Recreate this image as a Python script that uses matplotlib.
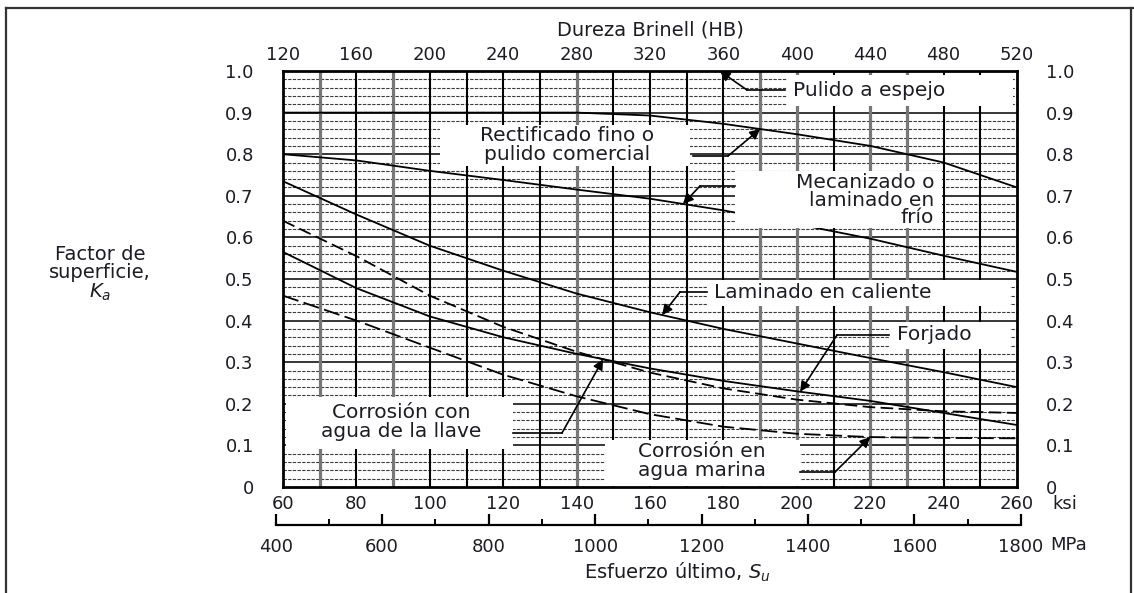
import numpy as np
import matplotlib
matplotlib.use("Agg")
import matplotlib.pyplot as plt
from matplotlib.patches import Rectangle
from matplotlib.lines import Line2D

plt.rcParams['font.family'] = ['DejaVu Sans']
TXT = '#1c1c24'

# ── Data (Ka vs ultimate strength in ksi) ───────────────────────────────────
ksi = [60, 80, 100, 120, 140, 160, 180, 200, 220, 240, 260]
espejo = [1.0, 1.0, 1.0, 1.0, 1.0, 1.0, 1.0, 1.0, 1.0, 1.0, 1.0]
rect_ksi = [60, 140, 160, 180, 200, 220, 240, 260]
rectificado = [0.90, 0.90, 0.893, 0.873, 0.848, 0.82, 0.78, 0.72]
mecanizado = [0.80, 0.785, 0.76, 0.738, 0.715, 0.693, 0.665, 0.632, 0.597, 0.556, 0.517]
caliente = [0.735, 0.655, 0.58, 0.52, 0.465, 0.42, 0.38, 0.345, 0.31, 0.276, 0.24]
forjado = [0.565, 0.478, 0.41, 0.36, 0.32, 0.285, 0.255, 0.23, 0.207, 0.178, 0.149]
agua_llave = [0.64, 0.555, 0.46, 0.385, 0.325, 0.275, 0.237, 0.21, 0.192, 0.182, 0.178]
agua_marina = [0.46, 0.40, 0.335, 0.27, 0.218, 0.175, 0.145, 0.128, 0.12, 0.118, 0.117]

hb_ticks = list(range(120, 521, 40))
ksi_ticks = list(range(60, 261, 20))
mpa_ticks = list(range(400, 1801, 200))
ka_ticks = [0, 0.1, 0.2, 0.3, 0.4, 0.5, 0.6, 0.7, 0.8, 0.9, 1.0]
ka_labels = ['0', '0.1', '0.2', '0.3', '0.4', '0.5', '0.6', '0.7', '0.8', '0.9', '1.0']

MPA_PER_KSI = 6.895

# ── Figure / axes geometry ──────────────────────────────────────────────────
W_PX, H_PX = 1134, 593
fig = plt.figure(figsize=(W_PX / 100, H_PX / 100), dpi=100)
L, R, T, B = 283 / W_PX, 1017 / W_PX, 1 - 71 / H_PX, 1 - 487 / H_PX
ax = fig.add_axes([L, B, R - L, T - B])
ax.set_xlim(60, 260)
ax.set_ylim(0, 1.0)

# grid: horizontal every 0.02, vertical every 10 ksi
for v in np.arange(0.02, 0.999, 0.02):
    if abs(v * 10 - round(v * 10)) < 1e-6:
        ax.axhline(v, color='black', lw=1.1, zorder=1)
    else:
        ax.axhline(v, color='#3a3a3a', lw=0.8, dashes=(3, 1.2), zorder=1)
gray_cols = [70, 90, 140, 190, 200, 220, 230]
for k in range(70, 260, 10):
    if k in gray_cols:
        ax.axvline(k, color='#777777', lw=2.3, zorder=1)
    else:
        ax.axvline(k, color='black', lw=1.5, zorder=1)

# curves
ax.plot(ksi, espejo, color='black', lw=1.4, zorder=3)
ax.plot(rect_ksi, rectificado, color='black', lw=1.3, zorder=3)
ax.plot(ksi, mecanizado, color='black', lw=1.3, zorder=3)
ax.plot(ksi, caliente, color='black', lw=1.3, zorder=3)
ax.plot(ksi, forjado, color='black', lw=1.3, zorder=3)
ax.plot(ksi, agua_llave, color='black', lw=1.3, dashes=(7, 3), zorder=3)
ax.plot(ksi, agua_marina, color='black', lw=1.3, dashes=(9, 3), zorder=3)

# ── label boxes with leader arrows ──────────────────────────────────────────
def px2d(x, y):
    return 60 + (x - 283) / 3.67, (487 - y) / 416


def label_box(x0, y0, x1, y1):
    (a, b), (c, d) = px2d(x0, y1), px2d(x1, y0)
    ax.add_patch(Rectangle((a, b), c - a, d - b, facecolor='white',
                           edgecolor='none', zorder=4))


def leader(start_px, elbow_px, tip_ksi, xs, ys):
    s = px2d(*start_px)
    e = px2d(*elbow_px)
    tip = (tip_ksi, float(np.interp(tip_ksi, xs, ys)))
    ax.plot([s[0], e[0]], [s[1], e[1]], color='black', lw=1.2, zorder=5,
            clip_on=False)
    ax.annotate('', xy=tip, xytext=e, zorder=6,
                arrowprops=dict(arrowstyle='-|>', color='black', lw=1.2,
                                mutation_scale=15, shrinkA=0, shrinkB=0))


FS = 14.5
# Pulido a espejo
label_box(787, 75, 1013, 106)
ax.text(*px2d(793, 90), 'Pulido a espejo', fontsize=FS, color=TXT,
        ha='left', va='center', zorder=5)
leader((785, 90), (747, 90), 179, ksi, espejo)

# Rectificado fino
label_box(440, 125, 690, 166)
ax.text(*px2d(567, 145), 'Rectificado fino o\npulido comercial', fontsize=FS,
        color=TXT, ha='center', va='center', linespacing=1.0, zorder=5)
leader((693, 156), (728, 156), 190, rect_ksi, rectificado)

# Mecanizado
label_box(735, 171, 942, 228)
ax.text(*px2d(934, 200), 'Mecanizado o\nlaminado en\nfrío', fontsize=FS,
        color=TXT, ha='right', va='center', linespacing=0.9, zorder=5)
leader((735, 186), (700, 186), 169, ksi, mecanizado)

# Laminado en caliente
label_box(707, 280, 1010, 306)
ax.text(*px2d(714, 292), 'Laminado en caliente', fontsize=FS, color=TXT,
        ha='left', va='center', zorder=5)
leader((707, 292), (680, 292), 163.3, ksi, caliente)

# Forjado
label_box(889, 322, 1010, 349)
ax.text(*px2d(897, 334), 'Forjado', fontsize=FS, color=TXT,
        ha='left', va='center', zorder=5)
leader((889, 335), (837, 335), 200.9, ksi, forjado)

# Corrosión con agua de la llave
label_box(286, 397, 513, 449)
ax.text(*px2d(401, 422), 'Corrosión con\nagua de la llave', fontsize=FS,
        color=TXT, ha='center', va='center', linespacing=0.95, zorder=5)
leader((513, 433), (562, 433), 147.2, ksi, agua_llave)

# Corrosión en agua marina
label_box(605, 440, 800, 486)
ax.text(*px2d(702, 461), 'Corrosión en\nagua marina', fontsize=FS,
        color=TXT, ha='center', va='center', linespacing=0.95, zorder=5)
leader((800, 472), (835, 472), 220, ksi, agua_marina)

# ── axes, ticks and labels ──────────────────────────────────────────────────
for s in ax.spines.values():
    s.set_linewidth(2.0)
    s.set_zorder(7)

TFS = 13
ax.set_xticks(ksi_ticks)
ax.set_xticklabels([str(t) for t in ksi_ticks], fontsize=TFS, color=TXT)
ax.tick_params(axis='x', length=0, pad=6)
ax.set_yticks(ka_ticks)
ax.set_yticklabels(ka_labels, fontsize=TFS, color=TXT)
ax.tick_params(axis='y', length=0, pad=21, labelright=True)

secx = ax.secondary_xaxis('top', functions=(lambda k: 120 + (k - 60) * 2,
                                            lambda h: 60 + (h - 120) / 2))
secx.set_xticks(hb_ticks)
secx.set_xticklabels([str(t) for t in hb_ticks], fontsize=TFS, color=TXT)
secx.tick_params(length=0, pad=5)
secx.spines['top'].set_visible(False)


# MPa scale drawn as a separate axis below the ksi labels
def xfig(k):
    return L + (k - 60) / 200 * (R - L)


m0, m1 = xfig(400 / MPA_PER_KSI), xfig(1800 / MPA_PER_KSI)
axm = fig.add_axes([m0, 1 - 525 / H_PX, m1 - m0, 0.001])
axm.set_xlim(400, 1800)
axm.set_ylim(0, 1)
axm.set_yticks([])
for side in ['top', 'left', 'right']:
    axm.spines[side].set_visible(False)
axm.spines['bottom'].set_linewidth(1.6)
axm.set_xticks(mpa_ticks)
axm.set_xticklabels([str(t) for t in mpa_ticks], fontsize=TFS, color=TXT)
axm.set_xticks(list(range(500, 1800, 200)), minor=True)
axm.tick_params(axis='x', which='major', direction='in', length=8, width=1.6,
                pad=9)
axm.tick_params(axis='x', which='minor', direction='in', length=4, width=1.4)
axm.patch.set_visible(False)

fig.text(1052 / W_PX, 1 - 504 / H_PX, 'ksi', fontsize=TFS, color=TXT,
         ha='left', va='center')
fig.text(1050 / W_PX, 1 - 545 / H_PX, 'MPa', fontsize=TFS, color=TXT,
         ha='left', va='center')
fig.text(650 / W_PX, 1 - 30 / H_PX, 'Dureza Brinell (HB)', fontsize=14,
         color=TXT, ha='center', va='center')
fig.text(677 / W_PX, 1 - 572 / H_PX, 'Esfuerzo último, $S_u$', fontsize=14,
         color=TXT, ha='center', va='center')
fig.text(100 / W_PX, 1 - 274 / H_PX, 'Factor de\nsuperficie,\n$K_a$',
         fontsize=14, color=TXT, ha='center', va='center', linespacing=0.95)

# outer frame of the scanned figure
for xs_, ys_ in [([6, 6], [8, 593]), ([6, 1134], [8, 8]), ([1131, 1131], [8, 593])]:
    fig.add_artist(Line2D([x / W_PX for x in xs_], [1 - y / H_PX for y in ys_],
                          color='#333333', lw=1.6))

fig.savefig('out.png', dpi=100)
